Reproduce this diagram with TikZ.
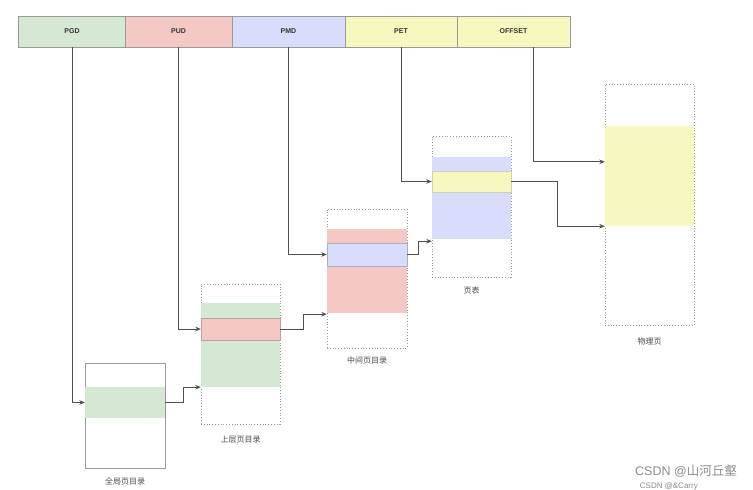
\documentclass[tikz,border=0pt]{standalone}
\usepackage{fontspec}
\setmainfont{Liberation Sans}
\newfontfamily\cjk{Noto Sans CJK SC}
\usetikzlibrary{arrows.meta,calc}
\definecolor{cgreen}{HTML}{D5E8D4}
\definecolor{cred}{HTML}{F4C9C5}
\definecolor{cblue}{HTML}{DADCFB}
\definecolor{cyellow}{HTML}{F7F7C0}
\definecolor{cline}{HTML}{505050}
\definecolor{cborder}{HTML}{9A9A9A}
\begin{document}
\begin{tikzpicture}[x=1pt,y=-1pt,
  field/.style={draw=cborder,line width=0.8pt,minimum height=31pt,inner sep=0pt,
    font=\bfseries\fontsize{7}{8}\selectfont,text=black!80},
  solidbox/.style={draw=cborder,line width=0.8pt,fill=white,inner sep=0pt},
  dotbox/.style={draw=cborder,line width=0.8pt,dotted,fill=white,inner sep=0pt},
  band/.style={inner sep=0pt,line width=0.4pt},
  lbl/.style={font=\cjk\fontsize{8}{9}\selectfont,text=black!70},
  arr/.style={draw=cline,line width=0.8pt,-{Stealth[length=5.5pt,width=4.5pt]}},
  wm/.style={text=black!45,inner sep=0pt}]
\useasboundingbox[fill=white] (0,0) rectangle (753,490);

% top bar fields
\node[field,fill=cgreen,minimum width=107pt] (pgd) at (72,31.5) {PGD};
\node[field,fill=cred,minimum width=107pt] (pud) at (178.5,31.5) {PUD};
\node[field,fill=cblue,minimum width=113pt] (pmd) at (288.5,31.5) {PMD};
\node[field,fill=cyellow,minimum width=112pt] (pet) at (401,31.5) {PET};
\node[field,fill=cyellow,minimum width=113pt] (off) at (513.5,31.5) {OFFSET};

% box 1: 全局页目录
\node[solidbox,minimum width=80pt,minimum height=105pt] (b1) at (125,415.5) {};
\node[band,fill=cgreen,minimum width=80pt,minimum height=31pt] (b1g) at (125,402.5) {};
\node[lbl] (l1) at (125,481) {全局页目录};

% box 2: 上层页目录
\node[dotbox,minimum width=79pt,minimum height=140pt] (b2) at (240.5,354) {};
\node[band,fill=cgreen,minimum width=79pt,minimum height=84pt] (b2g) at (240.5,345) {};
\node[band,fill=cred,draw=cred!70!black!80,minimum width=79pt,minimum height=22pt] (b2r) at (240.5,329) {};
\node[lbl] (l2) at (240.5,440) {上层页目录};

% box 3: 中间页目录
\node[dotbox,minimum width=80pt,minimum height=139pt] (b3) at (367,278.5) {};
\node[band,fill=cred,minimum width=80pt,minimum height=84pt] (b3r) at (367,271) {};
\node[band,fill=cblue,draw=cblue!70!black!80,minimum width=80pt,minimum height=23pt] (b3b) at (367,254.5) {};
\node[lbl] (l3) at (367,360) {中间页目录};

% box 4: 页表
\node[dotbox,minimum width=79pt,minimum height=141pt] (b4) at (471.5,206.5) {};
\node[band,fill=cblue,minimum width=79pt,minimum height=82pt] (b4b) at (471.5,198) {};
\node[band,fill=cyellow,draw=cyellow!80!black!80,minimum width=79pt,minimum height=21pt] (b4y) at (471.5,181.5) {};
\node[lbl] (l4) at (471.5,290) {页表};

% box 5: 物理页
\node[dotbox,minimum width=89pt,minimum height=241pt] (b5) at (649.5,204.5) {};
\node[band,fill=cyellow,minimum width=89pt,minimum height=100pt] (b5y) at (649.5,176) {};
\node[lbl] (l5) at (649.5,341) {物理页};

% entry points
\coordinate (in2) at (b2g.south west);
\coordinate (in3) at ($(b3r.south west)+(0,1)$);
\coordinate (in4) at ($(b4b.south west)+(0,2)$);
\coordinate (in5a) at ($(b5y.north west)+(0,36)$);
\coordinate (in5b) at (b5y.south west);

% index arrows from the top bar
\draw[arr] (pgd.south) |- (b1g.west);
\draw[arr] (pud.south) |- (b2r.west);
\draw[arr] (pmd.south) |- (b3b.west);
\draw[arr] (pet.south) |- (b4y.west);
\draw[arr] ([xshift=19.5pt]off.south) |- (in5a);

% chained arrows
\draw[arr] (b1g.east) -- ++(18,0) |- (in2);
\draw[arr] (b2r.east) -- ++(23,0) |- (in3);
\draw[arr] (b3b.east) -- ++(11,0) |- (in4);
\draw[arr] (b4y.east) -- ++(46,0) |- (in5b);

% watermark
\node[wm,font=\fontsize{12.5}{13}\selectfont,anchor=east] (wm1) at (737,471) {CSDN @{\cjk 山河丘壑}};
\node[wm,font=\fontsize{8}{9}\selectfont,anchor=east] (wm2) at (698,486) {CSDN @\&Carry};
\end{tikzpicture}
\end{document}
